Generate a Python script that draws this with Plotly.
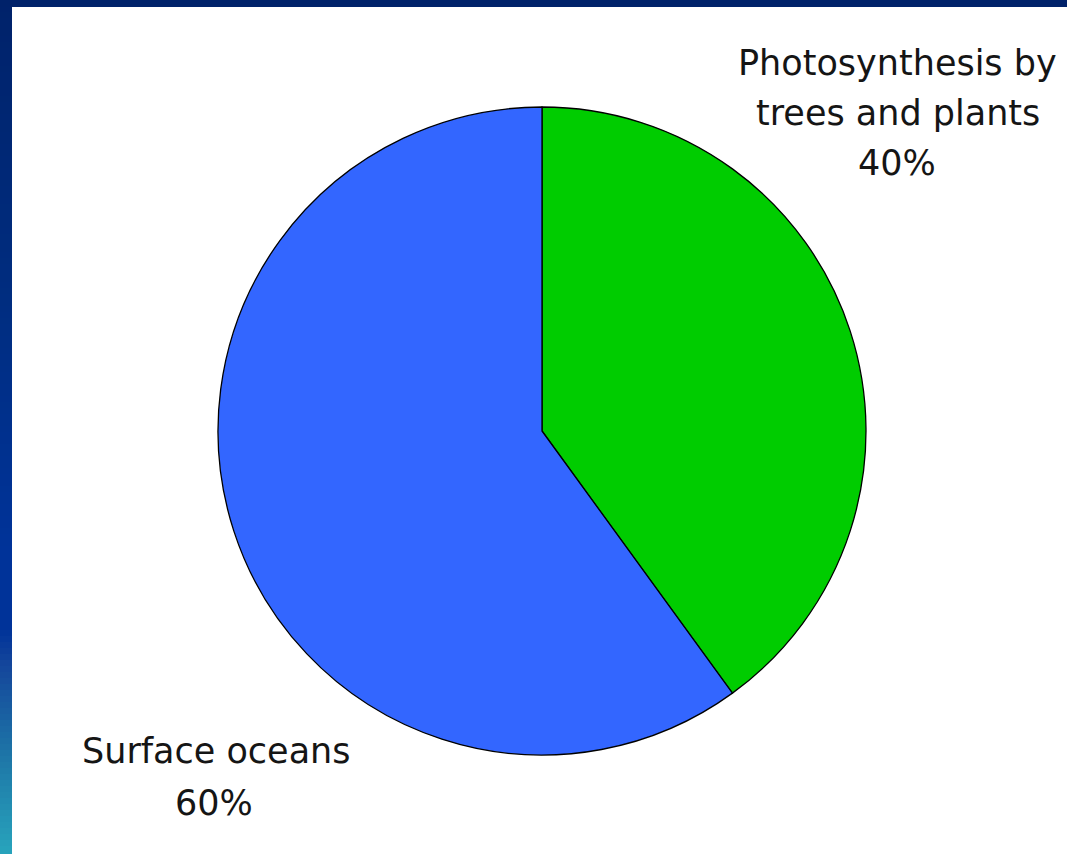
import plotly.graph_objects as go

# ---- data ----
labels = ["Photosynthesis by trees and plants", "Surface oceans"]
values = [40, 60]
colors = ["#00cc00", "#3366ff"]
label_lines = [["Photosynthesis by", "trees and plants", "40%"], ["Surface oceans", "60%"]]

W, H = 1067, 854

fig = go.Figure()
fig.add_trace(go.Pie(
    labels=labels, values=values, sort=False, direction="clockwise", rotation=0,
    marker=dict(colors=colors, line=dict(color="#000000", width=1.3)),
    textinfo="none", hoverinfo="label+percent", showlegend=False,
    domain=dict(x=[(542 - 324) / W, (542 + 324) / W], y=[1 - (431 + 324) / H, 1 - (431 - 324) / H]),
))

# annotation placement (pixel centres)
pos = [[(897, 63), (898, 113), (897, 163)], [(216, 751), (214, 803)]]
annotations = []
for lines, pts in zip(label_lines, pos):
    for t, (px, py) in zip(lines, pts):
        annotations.append(dict(
            text=t, x=px / W, y=1 - py / H, xref="paper", yref="paper",
            showarrow=False, xanchor="center", yanchor="middle",
            font=dict(family="DejaVu Sans", size=35, color="#151515"),
        ))

# frame: top bar and left gradient bar
def lerp(c1, c2, t):
    return tuple(round(a + (b - a) * t) for a, b in zip(c1, c2))

stops = [(0, (0, 34, 106)), (300, (0, 45, 128)), (550, (0, 51, 153)), (630, (0, 51, 153)),
         (665, (20, 70, 155)), (760, (30, 120, 168)), (854, (40, 164, 188))]
shapes = []
step = 6
for y0 in range(0, H, step):
    yc = y0 + step / 2
    for (a, ca), (b, cb) in zip(stops[:-1], stops[1:]):
        if a <= yc <= b:
            c = lerp(ca, cb, (yc - a) / (b - a))
            break
    shapes.append(dict(type="rect", xref="paper", yref="paper", x0=0, x1=12 / W,
                       y0=1 - min(y0 + step + 1, H) / H, y1=1 - y0 / H,
                       fillcolor="rgb(%d,%d,%d)" % c, line=dict(width=0), layer="above"))
shapes.append(dict(type="rect", xref="paper", yref="paper", x0=0, x1=1, y0=1 - 7 / H, y1=1,
                   fillcolor="#00226a", line=dict(width=0), layer="above"))

fig.update_layout(
    width=W, height=H, margin=dict(l=0, r=0, t=0, b=0),
    paper_bgcolor="#ffffff", plot_bgcolor="#ffffff",
    annotations=annotations, shapes=shapes,
)
fig.write_html("out.html", config={"displayModeBar": False},
               post_script="document.body.style.margin='0px';")
